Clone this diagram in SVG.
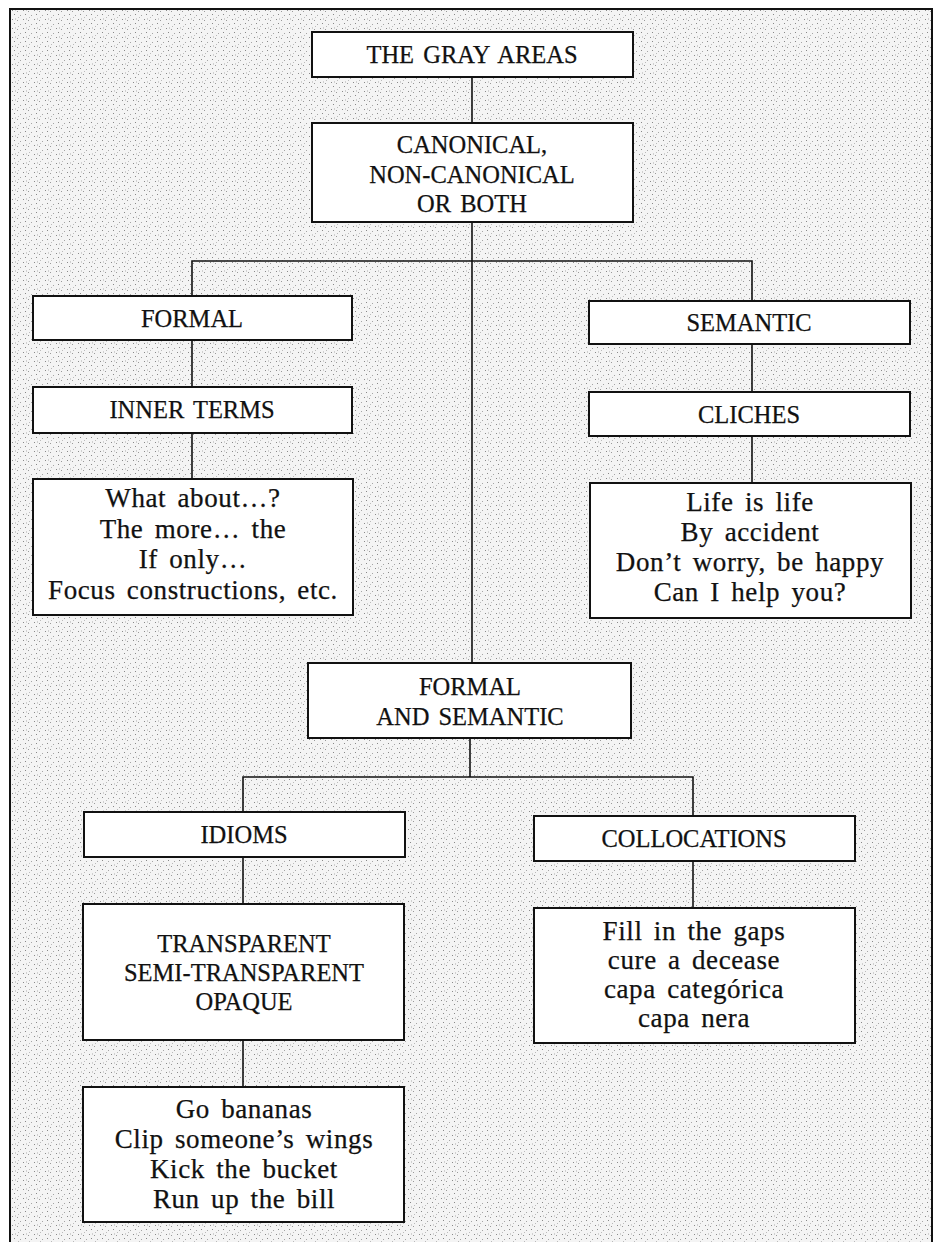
<svg xmlns="http://www.w3.org/2000/svg" width="941" height="1242" viewBox="0 0 941 1242">
  <defs>
    <pattern id="stipple" width="11" height="9" patternUnits="userSpaceOnUse">
      <rect width="11" height="9" fill="#f4f4f4"/>
      <rect x="1" y="1" width="1" height="1" fill="#8a8a8a"/>
      <rect x="6" y="2" width="1" height="1" fill="#9a9a9a"/>
      <rect x="3" y="5" width="1" height="1" fill="#888"/>
      <rect x="9" y="6" width="1" height="1" fill="#a5a5a5"/>
      <rect x="7" y="8" width="1" height="1" fill="#bbb"/>
      <rect x="4" y="0" width="1" height="2" fill="#d0d0d0"/>
    </pattern>
    <style>
      .box { fill: #ffffff; stroke: #111; stroke-width: 2; }
      .conn { fill: none; stroke: #111; stroke-width: 1.6; }
      .cap { font-family: "Liberation Serif", "Times New Roman", serif; font-size: 24.5px; fill: #111; stroke: #111; stroke-width: 0.25; text-anchor: middle; word-spacing: 3px; }
      .low { font-family: "Liberation Serif", "Times New Roman", serif; font-size: 27px; fill: #111; stroke: #111; stroke-width: 0.25; text-anchor: middle; letter-spacing: 0.6px; word-spacing: 4px; }
    </style>
  </defs>

  <rect x="0" y="0" width="941" height="1242" fill="#ffffff"/>
  <rect id="frame" x="10" y="9" width="922" height="1245" fill="url(#stipple)" stroke="#111" stroke-width="2"/>

  <g id="connectors">
    <line class="conn" x1="472" y1="77" x2="472" y2="123"/>
    <line class="conn" x1="472" y1="222" x2="472" y2="663"/>
    <polyline class="conn" points="192,296 192,261 752,261 752,301"/>
    <line class="conn" x1="192" y1="340" x2="192" y2="387"/>
    <line class="conn" x1="192" y1="433" x2="192" y2="479"/>
    <line class="conn" x1="752" y1="344" x2="752" y2="392"/>
    <line class="conn" x1="752" y1="436" x2="752" y2="483"/>
    <line class="conn" x1="470" y1="738" x2="470" y2="777"/>
    <polyline class="conn" points="243,812 243,777 693,777 693,816"/>
    <line class="conn" x1="243" y1="857" x2="243" y2="904"/>
    <line class="conn" x1="693" y1="861" x2="693" y2="908"/>
    <line class="conn" x1="243" y1="1040" x2="243" y2="1087"/>
  </g>

  <g id="gray-areas">
    <rect class="box" x="312" y="32" width="321" height="45"/>
    <text class="cap" x="472" y="63">THE GRAY AREAS</text>
  </g>

  <g id="canonical">
    <rect class="box" x="312" y="123" width="321" height="99"/>
    <text class="cap" x="472" y="153">CANONICAL,</text>
    <text class="cap" x="472" y="183">NON-CANONICAL</text>
    <text class="cap" x="472" y="212">OR BOTH</text>
  </g>

  <g id="formal">
    <rect class="box" x="33" y="296" width="319" height="44"/>
    <text class="cap" x="192" y="327">FORMAL</text>
  </g>

  <g id="inner-terms">
    <rect class="box" x="33" y="387" width="319" height="46"/>
    <text class="cap" x="192" y="418">INNER TERMS</text>
  </g>

  <g id="inner-terms-examples">
    <rect class="box" x="33" y="479" width="320" height="136"/>
    <text class="low" x="193" y="507">What about…?</text>
    <text class="low" x="193" y="538">The more… the</text>
    <text class="low" x="193" y="568">If only…</text>
    <text class="low" x="193" y="599">Focus constructions, etc.</text>
  </g>

  <g id="semantic">
    <rect class="box" x="589" y="301" width="321" height="43"/>
    <text class="cap" x="749" y="331">SEMANTIC</text>
  </g>

  <g id="cliches">
    <rect class="box" x="589" y="392" width="321" height="44"/>
    <text class="cap" x="749" y="423">CLICHES</text>
  </g>

  <g id="cliches-examples">
    <rect class="box" x="590" y="483" width="321" height="135"/>
    <text class="low" x="750" y="511">Life is life</text>
    <text class="low" x="750" y="541">By accident</text>
    <text class="low" x="750" y="571">Don’t worry, be happy</text>
    <text class="low" x="750" y="601">Can I help you?</text>
  </g>

  <g id="formal-and-semantic">
    <rect class="box" x="308" y="663" width="323" height="75"/>
    <text class="cap" x="470" y="695">FORMAL</text>
    <text class="cap" x="470" y="725">AND SEMANTIC</text>
  </g>

  <g id="idioms">
    <rect class="box" x="84" y="812" width="321" height="45"/>
    <text class="cap" x="244" y="843">IDIOMS</text>
  </g>

  <g id="collocations">
    <rect class="box" x="534" y="816" width="321" height="45"/>
    <text class="cap" x="694" y="847">COLLOCATIONS</text>
  </g>

  <g id="transparency">
    <rect class="box" x="83" y="904" width="321" height="136"/>
    <text class="cap" x="244" y="952">TRANSPARENT</text>
    <text class="cap" x="244" y="981">SEMI-TRANSPARENT</text>
    <text class="cap" x="244" y="1010">OPAQUE</text>
  </g>

  <g id="collocations-examples">
    <rect class="box" x="534" y="908" width="321" height="135"/>
    <text class="low" x="694" y="940">Fill in the gaps</text>
    <text class="low" x="694" y="969">cure a decease</text>
    <text class="low" x="694" y="998">capa categórica</text>
    <text class="low" x="694" y="1027">capa nera</text>
  </g>

  <g id="idioms-examples">
    <rect class="box" x="83" y="1087" width="321" height="135"/>
    <text class="low" x="244" y="1118">Go bananas</text>
    <text class="low" x="244" y="1148">Clip someone’s wings</text>
    <text class="low" x="244" y="1178">Kick the bucket</text>
    <text class="low" x="244" y="1208">Run up the bill</text>
  </g>
</svg>
